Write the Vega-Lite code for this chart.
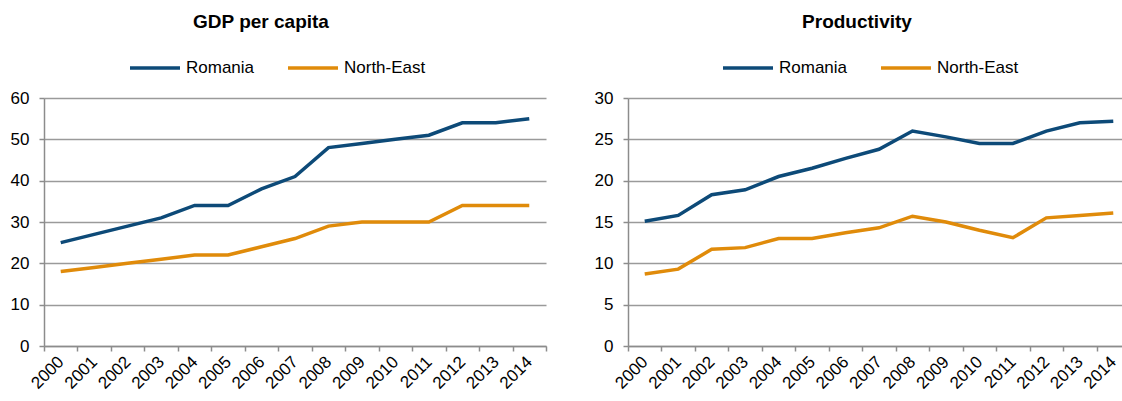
{
  "$schema": "https://vega.github.io/schema/vega-lite/v6.json",
  "background": "white",
  "padding": {"left": 10, "top": 13, "right": 0, "bottom": 0},
  "datasets": {
    "gdp": [
      {"year": "2000", "series": "Romania", "value": 25},
      {"year": "2001", "series": "Romania", "value": 27},
      {"year": "2002", "series": "Romania", "value": 29},
      {"year": "2003", "series": "Romania", "value": 31},
      {"year": "2004", "series": "Romania", "value": 34},
      {"year": "2005", "series": "Romania", "value": 34},
      {"year": "2006", "series": "Romania", "value": 38},
      {"year": "2007", "series": "Romania", "value": 41},
      {"year": "2008", "series": "Romania", "value": 48},
      {"year": "2009", "series": "Romania", "value": 49},
      {"year": "2010", "series": "Romania", "value": 50},
      {"year": "2011", "series": "Romania", "value": 51},
      {"year": "2012", "series": "Romania", "value": 54},
      {"year": "2013", "series": "Romania", "value": 54},
      {"year": "2014", "series": "Romania", "value": 55},
      {"year": "2000", "series": "North-East", "value": 18},
      {"year": "2001", "series": "North-East", "value": 19},
      {"year": "2002", "series": "North-East", "value": 20},
      {"year": "2003", "series": "North-East", "value": 21},
      {"year": "2004", "series": "North-East", "value": 22},
      {"year": "2005", "series": "North-East", "value": 22},
      {"year": "2006", "series": "North-East", "value": 24},
      {"year": "2007", "series": "North-East", "value": 26},
      {"year": "2008", "series": "North-East", "value": 29},
      {"year": "2009", "series": "North-East", "value": 30},
      {"year": "2010", "series": "North-East", "value": 30},
      {"year": "2011", "series": "North-East", "value": 30},
      {"year": "2012", "series": "North-East", "value": 34},
      {"year": "2013", "series": "North-East", "value": 34},
      {"year": "2014", "series": "North-East", "value": 34}
    ],
    "prod": [
      {"year": "2000", "series": "Romania", "value": 15.1},
      {"year": "2001", "series": "Romania", "value": 15.8},
      {"year": "2002", "series": "Romania", "value": 18.3},
      {"year": "2003", "series": "Romania", "value": 18.9},
      {"year": "2004", "series": "Romania", "value": 20.5},
      {"year": "2005", "series": "Romania", "value": 21.5},
      {"year": "2006", "series": "Romania", "value": 22.7},
      {"year": "2007", "series": "Romania", "value": 23.8},
      {"year": "2008", "series": "Romania", "value": 26.0},
      {"year": "2009", "series": "Romania", "value": 25.3},
      {"year": "2010", "series": "Romania", "value": 24.5},
      {"year": "2011", "series": "Romania", "value": 24.5},
      {"year": "2012", "series": "Romania", "value": 26.0},
      {"year": "2013", "series": "Romania", "value": 27.0},
      {"year": "2014", "series": "Romania", "value": 27.2},
      {"year": "2000", "series": "North-East", "value": 8.7},
      {"year": "2001", "series": "North-East", "value": 9.3},
      {"year": "2002", "series": "North-East", "value": 11.7},
      {"year": "2003", "series": "North-East", "value": 11.9},
      {"year": "2004", "series": "North-East", "value": 13.0},
      {"year": "2005", "series": "North-East", "value": 13.0},
      {"year": "2006", "series": "North-East", "value": 13.7},
      {"year": "2007", "series": "North-East", "value": 14.3},
      {"year": "2008", "series": "North-East", "value": 15.7},
      {"year": "2009", "series": "North-East", "value": 15.0},
      {"year": "2010", "series": "North-East", "value": 14.0},
      {"year": "2011", "series": "North-East", "value": 13.1},
      {"year": "2012", "series": "North-East", "value": 15.5},
      {"year": "2013", "series": "North-East", "value": 15.8},
      {"year": "2014", "series": "North-East", "value": 16.1}
    ]
  },
  "config": {
    "font": "Liberation Sans",
    "view": {"stroke": null},
    "title": {"fontSize": 19, "fontWeight": "bold", "color": "#000000", "font": "Liberation Sans", "anchor": "middle", "offset": 9},
    "axis": {
      "labelFont": "Liberation Sans",
      "labelFontSize": 17,
      "labelColor": "#000000",
      "domainColor": "#8c8c8c",
      "domainWidth": 1.5,
      "tickColor": "#8c8c8c",
      "tickWidth": 1.5,
      "tickSize": 5,
      "gridColor": "#9a9a9a",
      "gridWidth": 1.3,
      "title": null
    },
    "legend": {
      "direction": "horizontal",
      "title": null,
      "padding": 0,
      "labelFont": "Liberation Sans",
      "labelFontSize": 17,
      "labelColor": "#000000",
      "symbolType": "stroke",
      "symbolSize": 2500,
      "symbolStrokeWidth": 3.5,
      "labelOffset": 4,
      "columnPadding": 26
    }
  },
  "resolve": {"scale": {"color": "independent"}, "legend": {"color": "independent"}},
  "spacing": 47,
  "hconcat": [
    {
      "data": {"name": "gdp"},
      "title": {"text": "GDP per capita", "dx": -34},
      "width": 502,
      "height": 248,
      "mark": {"type": "line", "strokeWidth": 3.5},
      "encoding": {
        "x": {
          "field": "year", "type": "ordinal", "bandPosition": 0.5,
          "scale": {"type": "band", "paddingInner": 0, "paddingOuter": 0},
          "axis": {"labelAngle": -45, "labelAlign": "right", "labelBaseline": "middle", "tickBand": "extent", "labelPadding": 8, "grid": false}
        },
        "y": {
          "field": "value", "type": "quantitative",
          "scale": {"domain": [0, 60], "nice": false},
          "axis": {"values": [0, 10, 20, 30, 40, 50, 60], "grid": true, "labelPadding": 10}
        },
        "color": {
          "field": "series", "type": "nominal", "sort": ["Romania", "North-East"],
          "scale": {"domain": ["Romania", "North-East"], "range": ["#0d4a78", "#e08b0a"]},
          "legend": {"orient": "none", "legendX": 84, "legendY": -57}
        }
      }
    },
    {
      "data": {"name": "prod"},
      "title": {"text": "Productivity", "dx": -22},
      "width": 502,
      "height": 248,
      "mark": {"type": "line", "strokeWidth": 3.5},
      "encoding": {
        "x": {
          "field": "year", "type": "ordinal", "bandPosition": 0.5,
          "scale": {"type": "band", "paddingInner": 0, "paddingOuter": 0},
          "axis": {"labelAngle": -45, "labelAlign": "right", "labelBaseline": "middle", "tickBand": "extent", "labelPadding": 8, "grid": false}
        },
        "y": {
          "field": "value", "type": "quantitative",
          "scale": {"domain": [0, 30], "nice": false},
          "axis": {"values": [0, 5, 10, 15, 20, 25, 30], "grid": true, "labelPadding": 10}
        },
        "color": {
          "field": "series", "type": "nominal", "sort": ["Romania", "North-East"],
          "scale": {"domain": ["Romania", "North-East"], "range": ["#0d4a78", "#e08b0a"]},
          "legend": {"orient": "none", "legendX": 93, "legendY": -57}
        }
      }
    }
  ]
}
